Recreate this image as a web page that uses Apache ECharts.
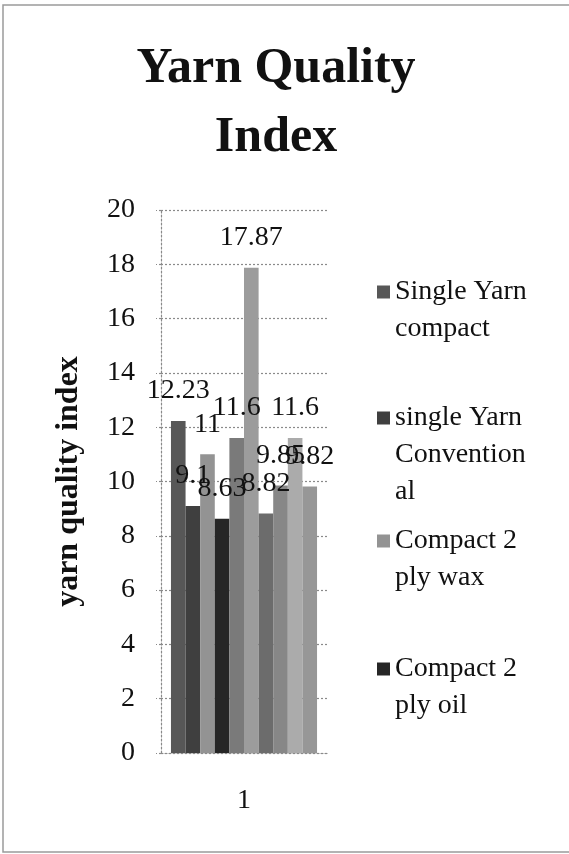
<!DOCTYPE html>
<html>
<head>
<meta charset="utf-8">
<script src="https://cdn.jsdelivr.net/npm/echarts@6/dist/echarts.min.js"></script>
<style>
    html, body { margin: 0; padding: 0; background: #fff; }
    #chart { width: 569px; height: 854px; }
</style>
</head>
<body>
<div id="chart"></div>
<script>
    // data
    const categories = ['1'];
    const seriesNames = [
        'Single Yarn compact', 'single Yarn Conventional', 'Compact 2 ply wax', 'Compact 2 ply oil',
        'Series 5', 'Series 6', 'Series 7', 'Series 8', 'Series 9', 'Series 10'
    ];
    const seriesValues = [12.23, 9.1, 11, 8.63, 11.6, 17.87, 8.82, 9.85, 11.6, 9.82];
    const seriesColors = ['#575757', '#3f3f3f', '#939393', '#262626', '#7a7a7a',
        '#9c9c9c', '#6c6c6c', '#878787', '#ababab', '#979797'];
    const legendLines = [
        ['Single Yarn', 'compact'],
        ['single Yarn', 'Convention', 'al'],
        ['Compact 2', 'ply wax'],
        ['Compact 2', 'ply oil']
    ];
    const legendCenters = [292, 418, 541, 669];
    const yTicks = { min: 0, max: 20, interval: 2 };

    const serif = '"Liberation Serif", "DejaVu Serif", serif';
    const lineH = 37;

    let series = [];
    seriesNames.forEach(function(name, i) {
        series.push({
            name: name,
            type: 'bar',
            barGap: '0%',
            barCategoryGap: '12%',
            itemStyle: { color: seriesColors[i] },
            label: {
                show: true,
                position: 'top',
                distance: 16,
                color: '#111',
                fontFamily: serif,
                fontSize: 28
            },
            data: [seriesValues[i]]
        });
    });

    // one legend per entry so each can sit where the original put it.
    // the legend centres its text on the icon, so blank lines are put in
    // front to bring the first real line level with the icon
    let legends = [];
    legendLines.forEach(function(lines, i) {
        let n = lines.length;
        let pad = new Array(n - 1).fill(' ');
        let text = pad.concat(lines).join('\n');
        legends.push({
            data: [seriesNames[i]],
            left: 377,
            top: legendCenters[i] - (2 * n - 1) * lineH / 2,
            icon: 'rect',
            itemWidth: 13,
            itemHeight: 13,
            itemGap: 0,
            padding: 0,
            formatter: function() { return text; },
            textStyle: {
                fontFamily: serif,
                fontSize: 28,
                color: '#111',
                lineHeight: lineH
            }
        });
    });

    const gridLine = { color: '#8a8a8a', type: [2, 2], width: 1.2 };

    let option = {
        animation: false,
        backgroundColor: '#fff',
        title: {
            text: 'Yarn Quality\nIndex',
            left: 271,
            top: 30,
            textAlign: 'center',
            textStyle: {
                fontFamily: serif,
                fontWeight: 'bold',
                fontSize: 50,
                lineHeight: 69,
                color: '#111'
            }
        },
        legend: legends,
        grid: { left: 161, right: 242, top: 210, bottom: 101, containLabel: false },
        xAxis: {
            type: 'category',
            data: categories,
            axisLine: { lineStyle: gridLine },
            axisTick: { show: false },
            axisLabel: { margin: 34, fontFamily: serif, fontSize: 28, color: '#111' }
        },
        yAxis: {
            type: 'value',
            min: yTicks.min,
            max: yTicks.max,
            interval: yTicks.interval,
            name: 'yarn quality index',
            nameLocation: 'middle',
            nameGap: 76,
            nameTextStyle: { fontFamily: serif, fontWeight: 'bold', fontSize: 32, color: '#111' },
            axisLine: { show: true, lineStyle: gridLine },
            axisTick: { show: true, length: 5, lineStyle: gridLine },
            axisLabel: { margin: 26, fontFamily: serif, fontSize: 28, color: '#111' },
            splitLine: { show: true, lineStyle: gridLine }
        },
        graphic: [{
            type: 'rect',
            shape: { x: 3, y: 5, width: 600, height: 847 },
            style: { fill: 'none', stroke: '#9a9a9a', lineWidth: 1.5 },
            silent: true
        }],
        series: series
    };

    echarts.init(document.getElementById('chart')).setOption(option);
</script>
</body>
</html>
